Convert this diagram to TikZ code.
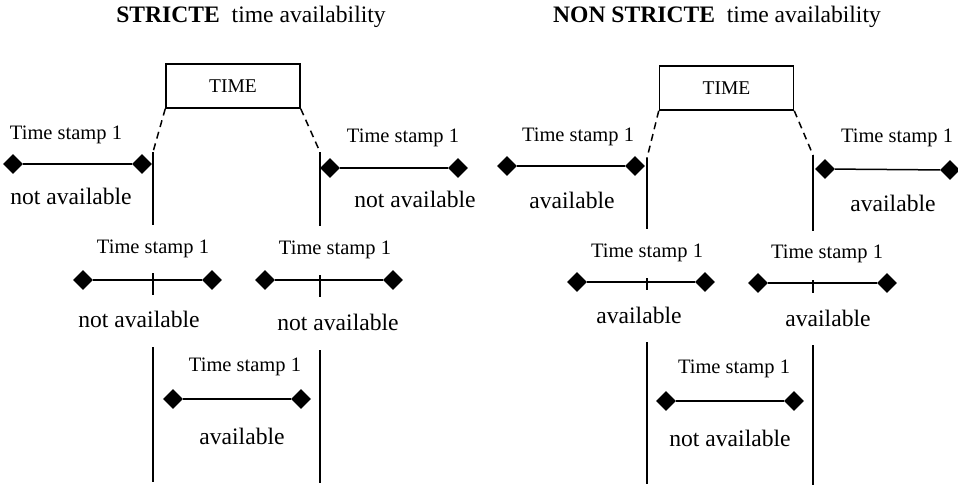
\documentclass[tikz,border=0pt]{standalone}
\usepackage{fontspec}
\setmainfont{Liberation Serif}
\usetikzlibrary{positioning, shapes.geometric}

\begin{document}
\begin{tikzpicture}[
  x=1pt, y=-1pt,
  title/.style={font=\fontsize{23.6}{28}\selectfont},
  ts/.style={font=\fontsize{20.5}{24}\selectfont, inner sep=0pt},
  av/.style={font=\fontsize{23.6}{28}\selectfont, inner sep=0pt},
  dia/.style={diamond, fill=black, inner sep=0pt, minimum size=20pt},
  seg/.style={line width=1.5pt},
  timebox/.style={draw, line width=1.5pt, minimum width=134pt, minimum height=44pt,
    font=\fontsize{19.5}{24}\selectfont},
  bound/.style={line width=1.8pt},
  guide/.style={line width=1.5pt, dash pattern=on 7pt off 5pt},
]
  \useasboundingbox (0,0) rectangle (958,488);

  % strict case
  \node[title] (ttlS) at (251,17) {\textbf{STRICTE}\ \ time availability};
  \node[timebox] (boxS) at (233,86) {TIME};
  \coordinate (lS) at (153,152);
  \coordinate (rS) at (320,152);
  \draw[guide] (boxS.south west) -- (lS);
  \draw[guide] (boxS.south east) -- (rS);
  \draw[bound] (lS) -- (153,225);
  \draw[bound] (153,273) -- (153,295);
  \draw[bound] (153,347) -- (153,482);
  \draw[bound] (rS) -- (320,226);
  \draw[bound] (320,275) -- (320,297);
  \draw[bound] (320,350) -- (320,483);

  \node[dia] (a1) at (13,164) {};
  \node[dia] (a2) at (142,164) {};
  \draw[seg] (a1) -- (a2);
  \node[ts] (tsA) at (66,135) {Time stamp 1};
  \node[av] (avA) at (71,196) {not available};

  \node[dia] (b1) at (330,168) {};
  \node[dia] (b2) at (458,168) {};
  \draw[seg] (b1) -- (b2);
  \node[ts] (tsB) at (403,138) {Time stamp 1};
  \node[av] (avB) at (415,199) {not available};

  \node[dia] (c1) at (83,280) {};
  \node[dia] (c2) at (212,280) {};
  \draw[seg] (c1) -- (c2);
  \node[ts] (tsC) at (153,249) {Time stamp 1};
  \node[av] (avC) at (139,319) {not available};

  \node[dia] (d1) at (265,280) {};
  \node[dia] (d2) at (393,280) {};
  \draw[seg] (d1) -- (d2);
  \node[ts] (tsD) at (335,250) {Time stamp 1};
  \node[av] (avD) at (338,322) {not available};

  \node[dia] (e1) at (173,399) {};
  \node[dia] (e2) at (301,399) {};
  \draw[seg] (e1) -- (e2);
  \node[ts] (tsE) at (245,367) {Time stamp 1};
  \node[av] (avE) at (242,436) {available};

  % non strict case
  \node[title] (ttlN) at (717,17) {\textbf{NON STRICTE}\ \ time availability};
  \node[timebox] (boxN) at (726.5,88) {TIME};
  \coordinate (lN) at (647,158);
  \coordinate (rN) at (813,155);
  \draw[guide] (boxN.south west) -- (lN);
  \draw[guide] (boxN.south east) -- (rN);
  \draw[bound] (lN) -- (647,229);
  \draw[bound] (647,278) -- (647,290);
  \draw[bound] (647,342) -- (647,484);
  \draw[bound] (rN) -- (813,231);
  \draw[bound] (813,280) -- (813,293);
  \draw[bound] (813,345) -- (813,485);

  \node[dia] (f1) at (507,166) {};
  \node[dia] (f2) at (635,166) {};
  \draw[seg] (f1) -- (f2);
  \node[ts] (tsF) at (578,137) {Time stamp 1};
  \node[av] (avF) at (572,200) {available};

  \node[dia] (g1) at (825,169) {};
  \node[dia] (g2) at (950,170) {};
  \draw[seg] (g1) -- (g2);
  \node[ts] (tsG) at (897,138) {Time stamp 1};
  \node[av] (avG) at (893,203) {available};

  \node[dia] (h1) at (577,282) {};
  \node[dia] (h2) at (705,282) {};
  \draw[seg] (h1) -- (h2);
  \node[ts] (tsH) at (647,253) {Time stamp 1};
  \node[av] (avH) at (639,315) {available};

  \node[dia] (i1) at (758,283) {};
  \node[dia] (i2) at (887,283) {};
  \draw[seg] (i1) -- (i2);
  \node[ts] (tsI) at (827,254) {Time stamp 1};
  \node[av] (avI) at (828,318) {available};

  \node[dia] (j1) at (666,401) {};
  \node[dia] (j2) at (794,401) {};
  \draw[seg] (j1) -- (j2);
  \node[ts] (tsJ) at (734,369) {Time stamp 1};
  \node[av] (avJ) at (730,438) {not available};
\end{tikzpicture}
\end{document}
